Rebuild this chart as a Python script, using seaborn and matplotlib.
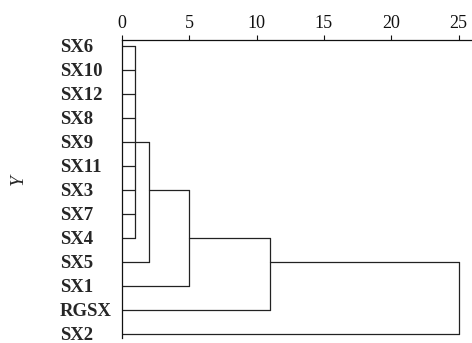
import numpy as np
import pandas as pd
import matplotlib
matplotlib.use("Agg")
import matplotlib.pyplot as plt
import seaborn as sns

# feuilles du dendrogramme (de haut en bas)
leaves = ["SX6", "SX10", "SX12", "SX8", "SX9", "SX11", "SX3", "SX7", "SX4",
          "SX5", "SX1", "RGSX", "SX2"]
# fusions successives : premier groupe de 9 feuilles, puis ajout d'une feuille à chaque étape
first_group = ["SX6", "SX10", "SX12", "SX8", "SX9", "SX11", "SX3", "SX7", "SX4"]
added_leaf = ["SX5", "SX1", "RGSX", "SX2"]
merge_height = [1, 2, 5, 11, 25]
x_ticks = [0, 5, 10, 15, 20, 25]

row = {name: i for i, name in enumerate(leaves)}

# construction des segments (x, y, id de segment)
segs = []
def add(x0, x1, y0, y1):
    k = len(segs) // 2
    segs.append((x0, y0, k))
    segs.append((x1, y1, k))

# premier groupe : traits horizontaux + vertical
h = merge_height[0]
rows = [row[n] for n in first_group]
for r in rows:
    add(0, h, r, r)
add(h, h, min(rows), max(rows))
node_row = (min(rows) + max(rows)) // 2
node_h = h

for leaf, h in zip(added_leaf, merge_height[1:]):
    r = row[leaf]
    add(0, h, r, r)                 # feuille
    add(node_h, h, node_row, node_row)  # noeud précédent
    add(h, h, node_row, r)          # vertical
    node_row = (node_row + r) // 2
    node_h = h

df = pd.DataFrame(segs, columns=["x", "y", "seg"])

sns.set_style("white")
plt.rcParams["font.family"] = ["Liberation Serif", "DejaVu Serif"]

fig = plt.figure(figsize=(4.72, 3.43), dpi=100)
ax = fig.add_axes([122 / 472, 1 - 338 / 343, 1 - 122 / 472, (338 - 40) / 343])

sns.lineplot(data=df, x="x", y="y", units="seg", estimator=None, sort=False,
             color="#222222", linewidth=0.9, ax=ax, legend=False)

ax.set_xlim(0, 26)
ax.set_ylim(12.17, -0.25)
ax.xaxis.tick_top()
ax.set_xticks(x_ticks)
ax.set_xticklabels([str(t) for t in x_ticks], fontsize=13)
ax.tick_params(axis="x", length=3.6, width=0.8, pad=2.5, colors="#111111")
ax.set_yticks(range(len(leaves)))
ax.set_yticklabels(leaves, fontsize=13.5, fontweight="bold", ha="left")
ax.tick_params(axis="y", length=0, pad=44.6)
ax.set_xlabel("")
ax.set_ylabel("Y", fontsize=14, fontstyle="italic", va="center")
ax.yaxis.set_label_coords(-0.297, 0.53)

for s in ["right", "bottom"]:
    ax.spines[s].set_visible(False)
for s in ["top", "left"]:
    ax.spines[s].set_color("#111111")
    ax.spines[s].set_linewidth(0.9)

fig.savefig("out.png", dpi=100)
